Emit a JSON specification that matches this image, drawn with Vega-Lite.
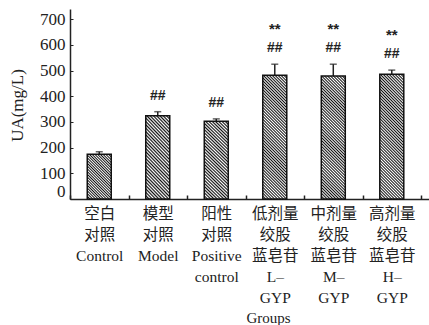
{
  "$schema": "https://vega.github.io/schema/vega-lite/v6.json",
  "autosize": {"type": "none"},
  "padding": {"left": 70, "top": 9, "right": 0, "bottom": 126},
  "width": 359,
  "height": 190,
  "background": "white",
  "config": {"view": {"stroke": null}},
  "data": {"values": [
    {"key": "Control", "group": "空白|对照|Control", "mean": 174, "upper": 184, "sig1": "", "sig2": ""},
    {"key": "Model", "group": "模型|对照|Model", "mean": 324, "upper": 340, "sig1": "##", "sig2": ""},
    {"key": "Positive", "group": "阳性|对照|Positive|control", "mean": 303, "upper": 312, "sig1": "##", "sig2": ""},
    {"key": "L", "group": "低剂量|绞股|蓝皂苷|L–|GYP", "mean": 482, "upper": 525, "sig1": "##", "sig2": "**"},
    {"key": "M", "group": "中剂量|绞股|蓝皂苷|M–|GYP", "mean": 479, "upper": 525, "sig1": "##", "sig2": "**"},
    {"key": "H", "group": "高剂量|绞股|蓝皂苷|H–|GYP", "mean": 486, "upper": 502, "sig1": "##", "sig2": "**"}
  ]},
  "encoding": {
    "x": {
      "field": "group", "type": "nominal", "sort": null,
      "scale": {"paddingInner": 0, "paddingOuter": 0.068, "align": 0},
      "axis": {
        "title": "Groups", "titleFont": "Liberation Serif", "titleFontSize": 15, "titleFontWeight": "normal", "titleColor": "#222",
        "titleX": 198, "titleY": 118, "titleBaseline": "middle", "titleAnchor": "middle",
        "labelExpr": "split(datum.label, '|')", "labelAngle": 0,
        "labelFont": "Liberation Serif, Noto Sans CJK SC", "labelFontSize": 15.5, "labelLineHeight": 21, "labelColor": "#222",
        "labelPadding": 11, "labelOverlap": false, "labelLimit": 200, "labelBaseline": "top",
        "tickBand": "extent", "tickSize": -4, "tickColor": "#222", "tickWidth": 1.5,
        "domainColor": "#222", "domainWidth": 1.5
      }
    },
    "y": {
      "field": "mean", "type": "quantitative",
      "scale": {"domain": [0, 740], "nice": false},
      "axis": {
        "title": "UA(mg/L)", "titleFont": "Liberation Serif", "titleFontSize": 17, "titleFontWeight": "normal", "titleColor": "#222",
        "titleX": -53, "titleY": 96, "titleAnchor": "middle", "titleBaseline": "middle",
        "values": [0, 100, 200, 300, 400, 500, 600, 700],
        "labelFont": "Liberation Serif", "labelFontSize": 17, "labelColor": "#222", "labelPadding": 8,
        "labelOffset": {"condition": {"test": "datum.value == 0", "value": -8}, "value": 0},
        "ticks": true, "tickSize": -3, "tickColor": "#222", "tickWidth": 1,
        "grid": false, "domainColor": "#222", "domainWidth": 1.5
      }
    }
  },
  "layer": [
    {
      "mark": {"type": "rule", "color": "#222", "strokeWidth": 1.5},
      "encoding": {"y": {"field": "upper", "type": "quantitative"}, "y2": {"field": "mean"}}
    },
    {
      "mark": {"type": "tick", "color": "#222", "size": 7, "thickness": 1.5},
      "encoding": {"y": {"field": "upper", "type": "quantitative"}}
    },
    {
      "mark": {"type": "text", "font": "Liberation Sans", "fontSize": 14, "fontWeight": "bold", "color": "#222", "dy": -16, "baseline": "middle"},
      "encoding": {"y": {"field": "upper", "type": "quantitative"}, "text": {"field": "sig1"}}
    },
    {
      "mark": {"type": "text", "font": "Liberation Sans", "fontSize": 15, "fontWeight": "bold", "color": "#222", "dy": -35, "baseline": "middle"},
      "encoding": {"y": {"field": "upper", "type": "quantitative"}, "text": {"field": "sig2"}}
    },
    {
      "transform": [{"filter": {"field": "key", "oneOf": ["Control"]}}],
      "mark": {"type": "bar", "size": 24, "stroke": "#111", "strokeWidth": 1.5,
        "fill": {"gradient": "linear", "x1": 0, "y1": 1, "x2": 0.643, "y2": -0.193, "stops": [
          {"offset": 0, "color": "#111"}, {"offset": 0.02, "color": "#fff"}, {"offset": 0.04, "color": "#111"}, {"offset": 0.06, "color": "#fff"},
          {"offset": 0.08, "color": "#111"}, {"offset": 0.1, "color": "#fff"}, {"offset": 0.12, "color": "#111"}, {"offset": 0.14, "color": "#fff"},
          {"offset": 0.16, "color": "#111"}, {"offset": 0.18, "color": "#fff"}, {"offset": 0.2, "color": "#111"}, {"offset": 0.22, "color": "#fff"},
          {"offset": 0.24, "color": "#111"}, {"offset": 0.26, "color": "#fff"}, {"offset": 0.28, "color": "#111"}, {"offset": 0.3, "color": "#fff"},
          {"offset": 0.32, "color": "#111"}, {"offset": 0.34, "color": "#fff"}, {"offset": 0.36, "color": "#111"}, {"offset": 0.38, "color": "#fff"},
          {"offset": 0.4, "color": "#111"}, {"offset": 0.42, "color": "#fff"}, {"offset": 0.44, "color": "#111"}, {"offset": 0.46, "color": "#fff"},
          {"offset": 0.48, "color": "#111"}, {"offset": 0.5, "color": "#fff"}, {"offset": 0.52, "color": "#111"}, {"offset": 0.54, "color": "#fff"},
          {"offset": 0.56, "color": "#111"}, {"offset": 0.58, "color": "#fff"}, {"offset": 0.6, "color": "#111"}, {"offset": 0.62, "color": "#fff"},
          {"offset": 0.64, "color": "#111"}, {"offset": 0.66, "color": "#fff"}, {"offset": 0.68, "color": "#111"}, {"offset": 0.7, "color": "#fff"},
          {"offset": 0.72, "color": "#111"}, {"offset": 0.74, "color": "#fff"}, {"offset": 0.76, "color": "#111"}, {"offset": 0.78, "color": "#fff"},
          {"offset": 0.8, "color": "#111"}, {"offset": 0.82, "color": "#fff"}, {"offset": 0.84, "color": "#111"}, {"offset": 0.86, "color": "#fff"},
          {"offset": 0.88, "color": "#111"}, {"offset": 0.9, "color": "#fff"}, {"offset": 0.92, "color": "#111"}, {"offset": 0.94, "color": "#fff"},
          {"offset": 0.96, "color": "#111"}, {"offset": 0.98, "color": "#fff"}, {"offset": 1, "color": "#111"}
        ]}
      }
    },
    {
      "transform": [{"filter": {"field": "key", "oneOf": ["Model", "Positive"]}}],
      "mark": {"type": "bar", "size": 24, "stroke": "#111", "strokeWidth": 1.5,
        "fill": {"gradient": "linear", "x1": 0, "y1": 1, "x2": 0.356, "y2": -0.192, "stops": [
          {"offset": 0, "color": "#111"}, {"offset": 0.015625, "color": "#fff"}, {"offset": 0.03125, "color": "#111"}, {"offset": 0.046875, "color": "#fff"},
          {"offset": 0.0625, "color": "#111"}, {"offset": 0.078125, "color": "#fff"}, {"offset": 0.09375, "color": "#111"}, {"offset": 0.109375, "color": "#fff"},
          {"offset": 0.125, "color": "#111"}, {"offset": 0.140625, "color": "#fff"}, {"offset": 0.15625, "color": "#111"}, {"offset": 0.171875, "color": "#fff"},
          {"offset": 0.1875, "color": "#111"}, {"offset": 0.203125, "color": "#fff"}, {"offset": 0.21875, "color": "#111"}, {"offset": 0.234375, "color": "#fff"},
          {"offset": 0.25, "color": "#111"}, {"offset": 0.265625, "color": "#fff"}, {"offset": 0.28125, "color": "#111"}, {"offset": 0.296875, "color": "#fff"},
          {"offset": 0.3125, "color": "#111"}, {"offset": 0.328125, "color": "#fff"}, {"offset": 0.34375, "color": "#111"}, {"offset": 0.359375, "color": "#fff"},
          {"offset": 0.375, "color": "#111"}, {"offset": 0.390625, "color": "#fff"}, {"offset": 0.40625, "color": "#111"}, {"offset": 0.421875, "color": "#fff"},
          {"offset": 0.4375, "color": "#111"}, {"offset": 0.453125, "color": "#fff"}, {"offset": 0.46875, "color": "#111"}, {"offset": 0.484375, "color": "#fff"},
          {"offset": 0.5, "color": "#111"}, {"offset": 0.515625, "color": "#fff"}, {"offset": 0.53125, "color": "#111"}, {"offset": 0.546875, "color": "#fff"},
          {"offset": 0.5625, "color": "#111"}, {"offset": 0.578125, "color": "#fff"}, {"offset": 0.59375, "color": "#111"}, {"offset": 0.609375, "color": "#fff"},
          {"offset": 0.625, "color": "#111"}, {"offset": 0.640625, "color": "#fff"}, {"offset": 0.65625, "color": "#111"}, {"offset": 0.671875, "color": "#fff"},
          {"offset": 0.6875, "color": "#111"}, {"offset": 0.703125, "color": "#fff"}, {"offset": 0.71875, "color": "#111"}, {"offset": 0.734375, "color": "#fff"},
          {"offset": 0.75, "color": "#111"}, {"offset": 0.765625, "color": "#fff"}, {"offset": 0.78125, "color": "#111"}, {"offset": 0.796875, "color": "#fff"},
          {"offset": 0.8125, "color": "#111"}, {"offset": 0.828125, "color": "#fff"}, {"offset": 0.84375, "color": "#111"}, {"offset": 0.859375, "color": "#fff"},
          {"offset": 0.875, "color": "#111"}, {"offset": 0.890625, "color": "#fff"}, {"offset": 0.90625, "color": "#111"}, {"offset": 0.921875, "color": "#fff"},
          {"offset": 0.9375, "color": "#111"}, {"offset": 0.953125, "color": "#fff"}, {"offset": 0.96875, "color": "#111"}, {"offset": 0.984375, "color": "#fff"},
          {"offset": 1, "color": "#111"}
        ]}
      }
    },
    {
      "transform": [{"filter": {"field": "key", "oneOf": ["L", "M", "H"]}}],
      "mark": {"type": "bar", "size": 24, "stroke": "#111", "strokeWidth": 1.5,
        "fill": {"gradient": "linear", "x1": 0, "y1": 1, "x2": 0.2235, "y2": -0.1507, "stops": [
          {"offset": 0, "color": "#111"}, {"offset": 0.01, "color": "#fff"}, {"offset": 0.02, "color": "#111"}, {"offset": 0.03, "color": "#fff"},
          {"offset": 0.04, "color": "#111"}, {"offset": 0.05, "color": "#fff"}, {"offset": 0.06, "color": "#111"}, {"offset": 0.07, "color": "#fff"},
          {"offset": 0.08, "color": "#111"}, {"offset": 0.09, "color": "#fff"}, {"offset": 0.1, "color": "#111"}, {"offset": 0.11, "color": "#fff"},
          {"offset": 0.12, "color": "#111"}, {"offset": 0.13, "color": "#fff"}, {"offset": 0.14, "color": "#111"}, {"offset": 0.15, "color": "#fff"},
          {"offset": 0.16, "color": "#111"}, {"offset": 0.17, "color": "#fff"}, {"offset": 0.18, "color": "#111"}, {"offset": 0.19, "color": "#fff"},
          {"offset": 0.2, "color": "#111"}, {"offset": 0.21, "color": "#fff"}, {"offset": 0.22, "color": "#111"}, {"offset": 0.23, "color": "#fff"},
          {"offset": 0.24, "color": "#111"}, {"offset": 0.25, "color": "#fff"}, {"offset": 0.26, "color": "#111"}, {"offset": 0.27, "color": "#fff"},
          {"offset": 0.28, "color": "#111"}, {"offset": 0.29, "color": "#fff"}, {"offset": 0.3, "color": "#111"}, {"offset": 0.31, "color": "#fff"},
          {"offset": 0.32, "color": "#111"}, {"offset": 0.33, "color": "#fff"}, {"offset": 0.34, "color": "#111"}, {"offset": 0.35, "color": "#fff"},
          {"offset": 0.36, "color": "#111"}, {"offset": 0.37, "color": "#fff"}, {"offset": 0.38, "color": "#111"}, {"offset": 0.39, "color": "#fff"},
          {"offset": 0.4, "color": "#111"}, {"offset": 0.41, "color": "#fff"}, {"offset": 0.42, "color": "#111"}, {"offset": 0.43, "color": "#fff"},
          {"offset": 0.44, "color": "#111"}, {"offset": 0.45, "color": "#fff"}, {"offset": 0.46, "color": "#111"}, {"offset": 0.47, "color": "#fff"},
          {"offset": 0.48, "color": "#111"}, {"offset": 0.49, "color": "#fff"}, {"offset": 0.5, "color": "#111"}, {"offset": 0.51, "color": "#fff"},
          {"offset": 0.52, "color": "#111"}, {"offset": 0.53, "color": "#fff"}, {"offset": 0.54, "color": "#111"}, {"offset": 0.55, "color": "#fff"},
          {"offset": 0.56, "color": "#111"}, {"offset": 0.57, "color": "#fff"}, {"offset": 0.58, "color": "#111"}, {"offset": 0.59, "color": "#fff"},
          {"offset": 0.6, "color": "#111"}, {"offset": 0.61, "color": "#fff"}, {"offset": 0.62, "color": "#111"}, {"offset": 0.63, "color": "#fff"},
          {"offset": 0.64, "color": "#111"}, {"offset": 0.65, "color": "#fff"}, {"offset": 0.66, "color": "#111"}, {"offset": 0.67, "color": "#fff"},
          {"offset": 0.68, "color": "#111"}, {"offset": 0.69, "color": "#fff"}, {"offset": 0.7, "color": "#111"}, {"offset": 0.71, "color": "#fff"},
          {"offset": 0.72, "color": "#111"}, {"offset": 0.73, "color": "#fff"}, {"offset": 0.74, "color": "#111"}, {"offset": 0.75, "color": "#fff"},
          {"offset": 0.76, "color": "#111"}, {"offset": 0.77, "color": "#fff"}, {"offset": 0.78, "color": "#111"}, {"offset": 0.79, "color": "#fff"},
          {"offset": 0.8, "color": "#111"}, {"offset": 0.81, "color": "#fff"}, {"offset": 0.82, "color": "#111"}, {"offset": 0.83, "color": "#fff"},
          {"offset": 0.84, "color": "#111"}, {"offset": 0.85, "color": "#fff"}, {"offset": 0.86, "color": "#111"}, {"offset": 0.87, "color": "#fff"},
          {"offset": 0.88, "color": "#111"}, {"offset": 0.89, "color": "#fff"}, {"offset": 0.9, "color": "#111"}, {"offset": 0.91, "color": "#fff"},
          {"offset": 0.92, "color": "#111"}, {"offset": 0.93, "color": "#fff"}, {"offset": 0.94, "color": "#111"}, {"offset": 0.95, "color": "#fff"},
          {"offset": 0.96, "color": "#111"}, {"offset": 0.97, "color": "#fff"}, {"offset": 0.98, "color": "#111"}, {"offset": 0.99, "color": "#fff"},
          {"offset": 1, "color": "#111"}
        ]}
      }
    }
  ]
}
